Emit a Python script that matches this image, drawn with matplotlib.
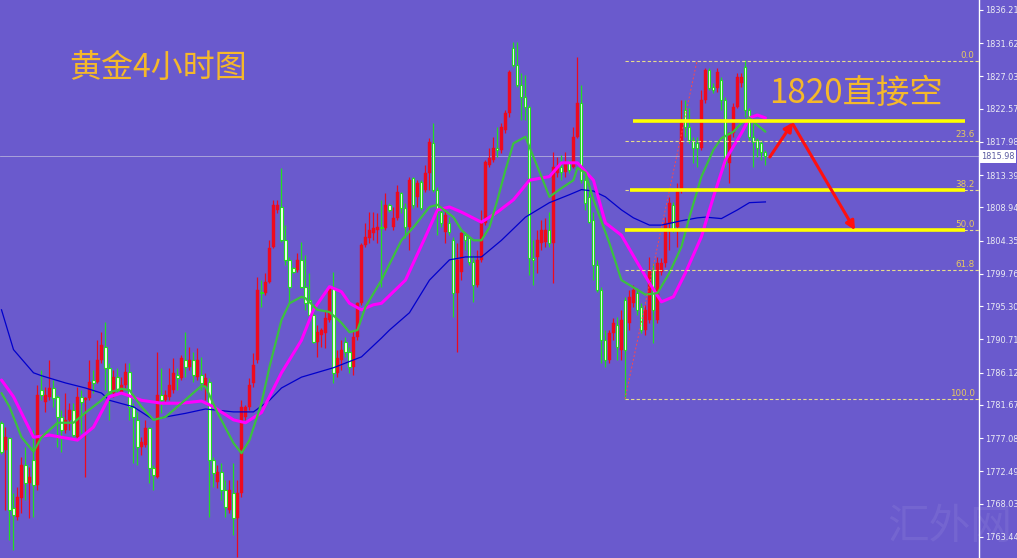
import matplotlib
matplotlib.use("Agg")
import matplotlib.pyplot as plt
import matplotlib.transforms as mtransforms
import numpy as np

# 4h gold candles, index 0 = leftmost bar
opens = [
    1779.2, 1775.4, 1777.1, 1767.4, 1766.2, 1768.8, 1773.4, 1770.9, 1774.1, 1770.6,
    1783.7, 1782.1, 1782.8, 1784.0, 1782.8, 1780.0, 1778.2, 1779.6, 1781.0, 1777.2,
    1782.8, 1782.3, 1782.6, 1785.1, 1784.8, 1787.9, 1789.7, 1786.8, 1783.3, 1785.5,
    1783.4, 1784.4, 1786.2, 1781.4, 1779.6, 1775.9, 1776.1, 1778.5, 1772.9, 1771.7,
    1783.0, 1782.3, 1782.8, 1783.7, 1785.8, 1785.4, 1787.9, 1786.9, 1787.9, 1785.5,
    1785.8, 1784.1, 1784.8, 1774.1, 1771.0, 1772.4, 1769.9, 1767.2, 1769.5, 1766.0,
    1769.5, 1780.0, 1781.4, 1784.7, 1787.9, 1797.3, 1797.1, 1798.6, 1803.5, 1808.6,
    1809.0, 1804.4, 1801.7, 1800.6, 1800.3, 1801.7, 1798.0, 1796.2, 1794.1, 1790.4,
    1791.3, 1791.6, 1793.4, 1797.8, 1786.1, 1787.9, 1790.4, 1789.0, 1786.9, 1791.1,
    1795.7, 1803.8, 1804.7, 1805.4, 1805.8, 1806.2, 1806.1, 1809.3, 1806.2, 1807.5,
    1810.9, 1808.9, 1806.2, 1813.0, 1810.4, 1812.5, 1811.4, 1813.7, 1817.9, 1811.4,
    1808.3, 1805.5, 1806.8, 1804.4, 1797.1, 1800.0, 1805.1, 1804.7, 1801.4, 1798.2,
    1801.7, 1806.8, 1814.8, 1815.5, 1817.2, 1816.9, 1819.6, 1822.0, 1831.0, 1828.6,
    1825.9, 1824.2, 1822.8, 1802.0, 1802.1, 1804.0, 1804.2, 1805.8, 1804.0, 1813.7,
    1814.5, 1813.8, 1815.2, 1814.5, 1818.7, 1823.4, 1812.7, 1810.4, 1807.2, 1801.0,
    1797.5, 1790.6, 1787.9, 1791.6, 1792.7, 1789.3, 1796.2, 1793.0, 1795.7, 1797.1,
    1795.2, 1792.0, 1793.4, 1800.3, 1793.4, 1800.0, 1801.3, 1806.8, 1809.3, 1806.2,
    1811.4, 1822.4, 1820.1, 1818.3, 1817.9, 1817.2, 1823.8, 1827.9, 1825.6, 1825.4,
    1826.5, 1823.8, 1815.1, 1819.2, 1822.8, 1826.1, 1828.3, 1822.4, 1818.7, 1818.3,
    1817.9, 1816.6,
]
highs = [
    1779.4, 1778.6, 1777.2, 1769.5, 1770.3, 1774.5, 1775.9, 1773.1, 1778.2, 1784.4,
    1786.5, 1784.1, 1787.9, 1785.1, 1783.0, 1781.0, 1783.3, 1781.9, 1781.9, 1784.1,
    1783.7, 1782.8, 1787.9, 1786.5, 1790.6, 1791.7, 1793.1, 1787.5, 1786.5, 1786.8,
    1785.5, 1787.5, 1787.5, 1781.9, 1780.7, 1777.2, 1779.6, 1778.6, 1773.4, 1789.0,
    1786.8, 1783.7, 1786.8, 1788.1, 1786.8, 1788.6, 1791.7, 1789.7, 1789.0, 1789.5,
    1788.3, 1786.1, 1785.4, 1774.5, 1773.4, 1773.6, 1771.3, 1771.3, 1773.6, 1771.3,
    1782.3, 1781.7, 1785.4, 1788.8, 1799.3, 1798.9, 1799.9, 1804.4, 1810.0, 1810.0,
    1814.4, 1806.5, 1802.1, 1800.7, 1802.6, 1804.2, 1802.4, 1799.9, 1795.2, 1792.7,
    1792.3, 1794.8, 1798.0, 1800.0, 1789.3, 1790.6, 1791.1, 1789.7, 1792.0, 1795.9,
    1804.0, 1806.8, 1808.3, 1808.3, 1808.2, 1810.0, 1810.9, 1809.6, 1809.0, 1812.0,
    1811.1, 1809.6, 1813.2, 1813.2, 1812.7, 1812.7, 1814.8, 1818.5, 1820.6, 1811.8,
    1808.6, 1809.0, 1807.6, 1804.9, 1804.0, 1805.5, 1805.5, 1804.9, 1802.4, 1803.1,
    1808.6, 1815.5, 1817.2, 1818.7, 1820.1, 1820.6, 1822.4, 1827.9, 1831.8, 1831.8,
    1827.5, 1827.2, 1823.1, 1804.4, 1805.8, 1807.2, 1807.5, 1808.3, 1816.6, 1815.9,
    1816.2, 1816.6, 1815.5, 1820.1, 1829.7, 1825.9, 1813.2, 1811.4, 1808.3, 1801.7,
    1798.0, 1792.0, 1792.0, 1793.7, 1793.8, 1794.8, 1796.6, 1797.5, 1798.2, 1797.8,
    1795.7, 1795.5, 1802.1, 1801.3, 1802.1, 1802.0, 1807.6, 1810.4, 1809.7, 1812.3,
    1823.8, 1823.8, 1822.7, 1818.7, 1818.7, 1825.2, 1828.2, 1828.2, 1826.1, 1828.2,
    1826.9, 1824.2, 1819.4, 1823.4, 1827.5, 1827.5, 1829.3, 1822.7, 1820.6, 1818.5,
    1818.3, 1816.9,
]
lows = [
    1774.9, 1767.2, 1763.0, 1761.6, 1765.8, 1766.7, 1768.5, 1766.0, 1766.2, 1769.9,
    1782.3, 1780.7, 1782.3, 1781.4, 1775.9, 1775.2, 1777.8, 1778.2, 1777.2, 1776.8,
    1777.8, 1771.7, 1782.3, 1783.3, 1784.7, 1787.4, 1783.7, 1779.6, 1782.8, 1783.4,
    1783.3, 1784.0, 1779.6, 1773.6, 1773.4, 1774.7, 1775.9, 1770.9, 1769.9, 1771.6,
    1780.6, 1782.1, 1782.3, 1783.3, 1783.7, 1785.1, 1785.5, 1786.5, 1784.8, 1785.1,
    1783.7, 1782.3, 1766.2, 1770.3, 1770.2, 1768.5, 1766.2, 1766.7, 1763.7, 1760.7,
    1768.9, 1779.6, 1781.0, 1784.1, 1787.5, 1795.2, 1796.9, 1798.5, 1803.3, 1808.2,
    1804.2, 1801.0, 1795.7, 1799.9, 1800.0, 1797.8, 1794.8, 1793.7, 1790.2, 1788.3,
    1789.7, 1789.5, 1793.1, 1784.7, 1785.5, 1786.5, 1788.3, 1786.1, 1785.8, 1790.6,
    1795.5, 1803.5, 1804.0, 1804.4, 1804.0, 1798.0, 1805.8, 1808.3, 1805.8, 1807.2,
    1808.2, 1804.7, 1803.1, 1808.9, 1809.0, 1808.6, 1811.1, 1811.4, 1811.1, 1805.1,
    1806.2, 1804.0, 1805.1, 1793.8, 1789.0, 1798.9, 1803.1, 1801.0, 1795.9, 1798.0,
    1801.4, 1806.5, 1814.5, 1815.2, 1815.9, 1816.5, 1819.2, 1821.4, 1828.3, 1825.6,
    1821.0, 1821.0, 1799.6, 1798.2, 1799.9, 1803.1, 1803.5, 1803.5, 1798.5, 1813.2,
    1812.7, 1813.2, 1813.7, 1814.4, 1818.5, 1812.3, 1808.6, 1806.8, 1798.9, 1797.3,
    1787.5, 1786.9, 1787.5, 1790.6, 1787.9, 1787.9, 1782.5, 1792.0, 1795.2, 1794.1,
    1791.6, 1791.3, 1793.0, 1790.2, 1793.0, 1799.6, 1800.7, 1803.1, 1805.5, 1803.5,
    1810.9, 1818.7, 1817.9, 1815.1, 1814.5, 1816.9, 1823.4, 1825.2, 1824.7, 1824.9,
    1822.4, 1814.5, 1812.3, 1818.7, 1822.7, 1825.6, 1821.4, 1818.3, 1814.5, 1815.9,
    1815.5, 1814.8,
]
closes = [
    1775.2, 1777.2, 1767.2, 1766.5, 1768.9, 1773.4, 1770.9, 1771.7, 1770.6, 1783.0,
    1783.0, 1783.0, 1784.0, 1782.6, 1780.0, 1778.2, 1779.6, 1781.0, 1777.5, 1782.8,
    1782.1, 1782.6, 1784.8, 1784.7, 1787.9, 1789.9, 1786.8, 1783.3, 1785.5, 1783.7,
    1784.4, 1786.2, 1781.4, 1780.0, 1775.9, 1776.5, 1778.5, 1772.9, 1772.0, 1783.0,
    1782.3, 1783.0, 1784.4, 1786.1, 1785.4, 1788.2, 1786.9, 1787.9, 1785.8, 1787.9,
    1784.7, 1785.4, 1774.1, 1772.3, 1772.4, 1769.9, 1767.6, 1769.9, 1766.0, 1769.5,
    1781.4, 1781.4, 1784.4, 1787.2, 1797.5, 1797.1, 1798.6, 1803.3, 1809.3, 1809.3,
    1804.4, 1801.7, 1798.0, 1800.0, 1801.7, 1798.0, 1795.7, 1794.1, 1790.4, 1791.7,
    1792.0, 1793.7, 1797.8, 1786.1, 1788.2, 1789.3, 1789.0, 1786.9, 1791.1, 1795.7,
    1803.8, 1804.9, 1805.8, 1806.1, 1806.2, 1806.1, 1809.3, 1808.6, 1807.5, 1811.1,
    1808.9, 1806.2, 1812.7, 1809.3, 1812.3, 1808.9, 1813.7, 1818.0, 1811.4, 1808.3,
    1806.8, 1807.9, 1805.5, 1797.1, 1801.7, 1805.4, 1804.4, 1801.4, 1798.2, 1801.7,
    1806.8, 1815.2, 1815.8, 1817.2, 1816.9, 1820.1, 1822.0, 1827.6, 1828.6, 1825.9,
    1824.2, 1822.8, 1802.0, 1801.7, 1804.4, 1805.8, 1805.8, 1804.0, 1814.5, 1814.5,
    1813.8, 1815.2, 1814.1, 1818.7, 1823.4, 1812.7, 1809.6, 1806.9, 1801.0, 1797.5,
    1790.6, 1787.9, 1791.6, 1793.0, 1789.7, 1793.4, 1789.3, 1796.6, 1797.5, 1794.8,
    1792.0, 1794.8, 1800.3, 1794.8, 1801.3, 1801.3, 1806.8, 1809.6, 1805.8, 1811.4,
    1820.6, 1820.1, 1818.3, 1817.2, 1817.2, 1823.8, 1827.9, 1825.4, 1825.2, 1827.6,
    1823.8, 1815.1, 1819.2, 1822.8, 1826.9, 1826.9, 1822.4, 1818.7, 1818.0, 1817.2,
    1816.6, 1816.0,
]

# moving averages, sampled at bar indices
ma_fast_idx = [0, 2, 5, 8, 10, 14, 18, 21, 25, 27, 30, 32, 35, 38, 41, 45, 50, 51, 54, 58,
               60, 62, 65, 67, 70, 72, 75, 76, 79, 82, 85, 87, 89, 91, 95, 100, 103, 107, 109,
               113, 115, 118, 120, 122, 124, 126, 128, 131, 133, 135, 137, 140, 143, 144, 146,
               148, 152, 155, 158, 161, 164, 167, 170, 172, 175, 178, 180, 183, 185, 187, 189, 191]
ma_fast = [1783.3, 1781.4, 1777.2, 1775.2, 1777.2, 1779.2, 1779.2, 1780.6, 1782.3, 1783.4,
           1783.9, 1783.7, 1781.4, 1779.6, 1780.0, 1781.9, 1784.3, 1784.2, 1780.6, 1776.4,
           1775.0, 1776.8, 1781.9, 1786.9, 1793.4, 1795.7, 1796.6, 1796.4, 1794.8, 1794.5,
           1793.0, 1791.7, 1792.0, 1795.2, 1798.9, 1804.4, 1806.2, 1809.0, 1809.3,
           1807.6, 1805.8, 1804.4, 1804.4, 1806.2, 1810.0, 1814.1, 1817.8, 1818.7, 1815.9,
           1813.2, 1810.4, 1811.6, 1812.7, 1814.4, 1813.7,
           1810.0, 1804.0, 1798.9, 1797.9, 1796.9, 1797.1, 1799.9, 1803.5, 1807.6, 1813.2,
           1816.9, 1818.5, 1819.4, 1820.6, 1821.3, 1820.3, 1819.4]

ma_mid_idx = [0, 3, 8, 12, 15, 19, 23, 27, 30, 35, 40, 45, 50, 53, 58, 61, 65, 67, 70, 75,
              78, 82, 85, 87, 90, 93, 95, 101, 106, 109, 112, 115, 120, 124, 128, 132, 137,
              140, 144, 148, 151, 155, 159, 162, 165, 168, 171, 175, 178, 181, 185, 187, 189, 191]
ma_mid = [1785.1, 1782.8, 1777.2, 1777.5, 1777.2, 1776.8, 1778.6, 1782.8, 1783.3, 1782.3,
          1781.9, 1781.9, 1782.2, 1781.4, 1779.6, 1779.2, 1780.6, 1782.8, 1786.1, 1790.6,
          1794.8, 1798.0, 1797.3, 1795.7, 1794.8, 1795.5, 1795.7, 1798.9, 1804.9, 1808.6,
          1809.0, 1808.3, 1806.9, 1808.3, 1810.0, 1812.7, 1813.2, 1815.1, 1815.1, 1812.7,
          1806.8, 1805.1, 1801.3, 1798.5, 1795.9, 1796.6, 1799.9, 1804.9, 1810.4, 1815.5,
          1819.2, 1821.3, 1821.7, 1821.3]

ma_slow_idx = [0, 3, 8, 10, 16, 21, 25, 27, 33, 38, 41, 46, 51, 58, 63, 67, 70, 75, 83, 90,
               95, 97, 102, 107, 112, 116, 120, 125, 131, 137, 142, 145, 148, 151, 155, 158,
               162, 165, 170, 174, 176, 180, 184, 187, 191]
ma_slow = [1794.8, 1789.3, 1786.1, 1785.7, 1784.7, 1784.0, 1783.3, 1782.3, 1781.4, 1779.6,
           1780.0, 1780.5, 1781.1, 1780.7, 1780.7, 1782.3, 1784.0, 1785.5, 1786.8, 1788.3,
           1790.9, 1792.0, 1794.4, 1798.9, 1801.7, 1802.1, 1802.1, 1804.4, 1807.6, 1809.6,
           1810.7, 1811.4, 1811.2, 1810.4, 1808.6, 1807.5, 1806.5, 1806.5, 1807.1, 1807.5,
           1807.6, 1807.4, 1808.6, 1809.6, 1809.7]

price_ticks = [1836.21, 1831.62, 1827.03, 1822.57, 1817.98, 1813.39, 1808.94, 1804.35,
               1799.76, 1795.30, 1790.71, 1786.12, 1781.67, 1777.08, 1772.49, 1768.03, 1763.44]
last_price = 1815.98

fib_names = ["0.0", "23.6", "38.2", "50.0", "61.8", "100.0"]
fib_ratio = [0.0, 0.236, 0.382, 0.5, 0.618, 1.0]
fib_high = 1829.2
fib_low = 1782.5
fib_start, fib_end = 155.9, 173.9

levels = [1820.9, 1811.35, 1805.8]
level_start = [157.9, 157.1, 155.9]
level_end = 240.9

arrows = [((192.1, 1815.9), (197.9, 1820.7)), ((197.9, 1820.4), (213.4, 1805.8))]

BG = "#6A5ACD"
UP = "#EE0A1E"
DOWN = "#22DD22"

plt.rcParams["font.family"] = ["DejaVu Sans"]
fig = plt.figure(figsize=(10.17, 5.58), dpi=100, facecolor=BG)
ax = fig.add_axes([0, 0, 979 / 1017, 1])
ax.set_facecolor(BG)

o = np.array(opens)
h = np.array(highs)
l = np.array(lows)
c = np.array(closes)
x = np.arange(len(c))
up = c >= o

# candles
ax.vlines(x[up], l[up], h[up], color=UP, lw=0.9, zorder=2)
ax.vlines(x[~up], l[~up], h[~up], color=DOWN, lw=0.9, zorder=2)
body_lo = np.minimum(o, c)
body_h = np.maximum(np.abs(c - o), 0.15)
ax.bar(x[up], body_h[up], 0.72, bottom=body_lo[up], color=UP, edgecolor=UP, lw=0.3, zorder=3)
ax.bar(x[~up], body_h[~up], 0.52, bottom=body_lo[~up], facecolor="#F4FFF0",
       edgecolor=DOWN, lw=0.8, zorder=3)

# moving averages
ax.plot(ma_slow_idx, ma_slow, color="#0000CC", lw=0.9, zorder=4)
ax.plot(ma_mid_idx, ma_mid, color="#FF00FF", lw=2.2, zorder=4, solid_capstyle="round")
ax.plot(ma_fast_idx, ma_fast, color="#3CC040", lw=1.6, zorder=5, solid_capstyle="round")

# bid line
ax.axhline(last_price, color="#B4AEDC", lw=0.6, zorder=1)

# fibonacci retracement
fib_prices = [fib_high - r * (fib_high - fib_low) for r in fib_ratio]
ax.plot([fib_start, fib_end], [fib_low, fib_high], color="#FF4848", lw=0.7,
        ls=(0, (2, 2)), zorder=6)
for name, fp in zip(fib_names, fib_prices):
    ax.hlines(fp, fib_start, 244.4, color="#E8DC8C", lw=0.8, ls=(0, (3, 2)), zorder=6)
    ax.text(243.3, fp + 0.15, name, color="#E8C860", fontsize=6.3, ha="right", va="bottom",
            zorder=7)

# support / resistance
for lv, xs in zip(levels, level_start):
    ax.hlines(lv, xs, level_end, color="#FFFF00", lw=2.6, zorder=7)

for start, end in arrows:
    ax.annotate("", xy=end, xytext=start,
                arrowprops=dict(arrowstyle="-|>", color="#FF1010", lw=2.2,
                                mutation_scale=13, shrinkA=0, shrinkB=0), zorder=8)

cjk = ["Noto Sans CJK SC", "DejaVu Sans"]
fig.text(0.155, 0.878, "黄金4小时图", color="#F5B82A", fontsize=23, family=cjk,
         ha="center", va="center")
fig.text(856 / 1017, 1 - 93 / 558, "1820直接空", color="#F5B82A", fontsize=24,
         family=cjk, ha="center", va="center")
fig.text(950 / 1017, 1 - 528 / 558, "汇外网", color="white", alpha=0.07, fontsize=30,
         family=cjk, ha="center", va="center")

ax.set_xlim(-0.375, 244.4)
ax.set_ylim(1760.52, 1837.59)
for side in ["top", "left", "bottom"]:
    ax.spines[side].set_visible(False)
ax.spines["right"].set_color("white")
ax.spines["right"].set_linewidth(1.0)
ax.set_xticks([])
ax.yaxis.tick_right()
ax.set_yticks(price_ticks)
ax.set_yticklabels([f"{v:.2f}" for v in price_ticks], fontsize=5.9, color="#ECECF4")
ax.tick_params(axis="y", direction="out", length=3, width=0.8, color="white", pad=1.5)

trans = mtransforms.blended_transform_factory(ax.transAxes, ax.transData)
ax.text(1.002, last_price, f"{last_price:.2f}", transform=trans, fontsize=5.9,
        color="#5A5AA0", ha="left", va="center", clip_on=False,
        bbox=dict(facecolor="white", edgecolor="none", pad=1.2))

fig.savefig("out.png", dpi=100, facecolor=BG)
